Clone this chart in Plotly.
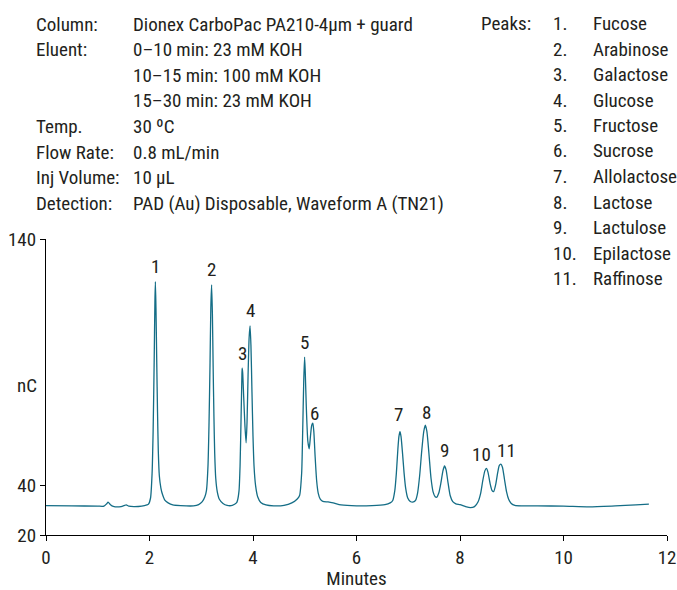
import plotly.graph_objects as go

# ---- chromatogram trace (retention time in min, response in nC) ----
time_min = [
    0.00, 0.50, 1.00, 1.12, 1.17, 1.20, 1.24, 1.30, 1.45, 1.52, 1.55, 1.60, 1.70, 1.85, 1.95,
    1.98, 2.02, 2.05, 2.07, 2.09, 2.105, 2.114, 2.125, 2.14, 2.155, 2.17, 2.19, 2.22, 2.25, 2.30,
    2.36, 2.45, 2.60, 2.85, 2.95, 3.02, 3.07, 3.10, 3.13, 3.15, 3.17, 3.185, 3.20, 3.215, 3.23,
    3.245, 3.26, 3.28, 3.31, 3.35, 3.42, 3.50, 3.60, 3.68, 3.70, 3.73, 3.75, 3.77, 3.785, 3.79,
    3.80, 3.82, 3.845, 3.867, 3.885, 3.905, 3.925, 3.943, 3.96, 3.98, 4.00, 4.02, 4.05, 4.09,
    4.15, 4.25, 4.40, 4.60, 4.75, 4.85, 4.90, 4.94, 4.96, 4.98, 4.997, 5.01, 5.03, 5.06, 5.086,
    5.11, 5.135, 5.156, 5.175, 5.20, 5.23, 5.26, 5.30, 5.35, 5.45, 5.55, 5.70, 6.00, 6.30, 6.55,
    6.65, 6.70, 6.74, 6.77, 6.80, 6.82, 6.84, 6.86, 6.89, 6.92, 6.95, 6.99, 7.04, 7.10, 7.14,
    7.18, 7.22, 7.26, 7.30, 7.33, 7.36, 7.40, 7.44, 7.48, 7.52, 7.55, 7.59, 7.63, 7.67, 7.70,
    7.73, 7.77, 7.81, 7.86, 7.92, 8.00, 8.10, 8.20, 8.28, 8.35, 8.40, 8.44, 8.48, 8.51, 8.54,
    8.58, 8.62, 8.65, 8.69, 8.73, 8.76, 8.79, 8.82, 8.86, 8.90, 8.94, 8.99, 9.06, 9.20, 9.50,
    10.00, 10.50, 11.00, 11.40, 11.65,
]
signal_nc = [
    31.9, 31.8, 31.7, 31.7, 32.6, 33.3, 32.4, 31.6, 31.5, 32.0, 32.2, 31.7, 31.5, 31.7, 32.2,
    32.5, 35.0, 45.0, 62.0, 90.0, 115.0, 122.7, 112.0, 90.0, 70.0, 54.0, 44.0, 39.0, 36.5, 34.0,
    33.0, 32.2, 31.9, 31.8, 32.3, 33.5, 35.5, 38.0, 48.0, 65.0, 90.0, 112.0, 121.4, 110.0, 88.0,
    68.0, 53.0, 43.0, 37.5, 34.5, 32.8, 32.0, 32.0, 33.0, 34.0, 38.0, 48.0, 68.0, 84.0, 87.6,
    86.0, 76.0, 64.0, 57.4, 66.0, 85.0, 100.0, 104.8, 97.0, 78.0, 60.0, 48.0, 40.0, 35.5,
    33.2, 32.2, 31.8, 32.0, 33.0, 34.5, 36.0, 45.0, 62.0, 82.0, 92.1, 86.0, 72.0, 58.0, 54.9,
    60.0, 64.5, 65.3, 62.0, 52.0, 42.0, 37.0, 34.5, 33.6, 33.4, 33.0, 32.2, 31.8, 31.9, 32.3,
    33.0, 34.0, 38.0, 45.0, 55.0, 60.0, 61.9, 60.0, 53.0, 45.0, 39.0, 35.0, 33.6, 33.4, 34.0,
    37.0, 44.0, 54.0, 62.0, 64.5, 62.0, 53.0, 43.0, 37.5, 35.5, 35.3, 37.0, 41.0, 46.0, 48.0,
    46.5, 41.0, 36.0, 33.5, 32.6, 32.3, 31.6, 31.1, 31.5, 33.5, 37.0, 42.0, 46.0, 47.0, 45.5,
    41.0, 38.0, 37.6, 40.5, 45.5, 48.2, 48.7, 47.5, 42.5, 37.5, 34.5, 32.8, 32.0, 31.8, 31.8,
    31.7, 31.4, 31.8, 32.2, 32.5,
]

# ---- peak apexes and numbering ----
peak_numbers = ["1", "2", "3", "4", "5", "6", "7", "8", "9", "10", "11"]
peak_times = [2.114, 3.20, 3.79, 3.943, 4.997, 5.156, 6.84, 7.33, 7.70, 8.51, 8.79]
peak_heights = [122.7, 121.4, 87.6, 104.8, 92.1, 65.3, 61.9, 64.5, 48.0, 47.0, 48.7]
peak_names = ["Fucose", "Arabinose", "Galactose", "Glucose", "Fructose", "Sucrose",
              "Allolactose", "Lactose", "Lactulose", "Epilactose", "Raffinose"]

# ---- run conditions ----
condition_labels = ["Column:", "Eluent:", "", "", "Temp.", "Flow Rate:", "Inj Volume:", "Detection:"]
condition_values = [
    "Dionex CarboPac PA210-4µm + guard",
    "0–10 min: 23 mM KOH",
    "10–15 min: 100 mM KOH",
    "15–30 min: 23 mM KOH",
    "30 ºC",
    "0.8 mL/min",
    "10 µL",
    "PAD (Au) Disposable, Waveform A (TN21)",
]

x_ticks = [0, 2, 4, 6, 8, 10, 12]
y_ticks = [20, 40, 140]

FONT = "Liberation Sans Narrow, Arial Narrow, Roboto Condensed, Liberation Sans, sans-serif"
INK = "#231f20"
TRACE = "#146d86"
TXT = 19

# plot-area geometry in pixels (used to place the text block above the axes)
W, H = 677, 590
ML, MR, MT, MB = 46, 10, 239, 55
PW, PH = W - ML - MR, H - MT - MB


def px_x(px):
    return (px - ML) / PW


def px_y(py):
    return (H - MB - py) / PH


fig = go.Figure()
fig.add_trace(go.Scatter(
    x=time_min, y=signal_nc, mode="lines",
    line=dict(color=TRACE, width=1.3, shape="spline", smoothing=0.6),
    hoverinfo="x+y", showlegend=False,
))

annotations = []

# peak numbers above each apex
label_nudge = {"6": (2, 10), "7": (-1, 17), "8": (1, 13), "10": (-5, 14), "11": (6, 14)}
for num, t, h in zip(peak_numbers, peak_times, peak_heights):
    dx, dy = label_nudge.get(num, (0, 15))
    annotations.append(dict(
        x=t, y=h, xref="x", yref="y", text=num, showarrow=False,
        xanchor="center", yanchor="middle", xshift=dx, yshift=dy,
        font=dict(family=FONT, size=TXT, color=INK),
    ))

# conditions block (upper left)
line_step = 25.6
for i, (lab, val) in enumerate(zip(condition_labels, condition_values)):
    yy = px_y(24 + i * line_step)
    if lab:
        annotations.append(dict(
            x=px_x(34), y=yy, xref="paper", yref="paper", text=lab, showarrow=False,
            xanchor="left", yanchor="middle", font=dict(family=FONT, size=TXT, color=INK),
        ))
    annotations.append(dict(
        x=px_x(131), y=yy, xref="paper", yref="paper", text=val, showarrow=False,
        xanchor="left", yanchor="middle", font=dict(family=FONT, size=TXT, color=INK),
    ))

# peak key (upper right)
annotations.append(dict(
    x=px_x(479), y=px_y(23.5), xref="paper", yref="paper", text="Peaks:", showarrow=False,
    xanchor="left", yanchor="middle", font=dict(family=FONT, size=TXT, color=INK),
))
for i, (num, name) in enumerate(zip(peak_numbers, peak_names)):
    yy = px_y(23.5 + i * 25.5)
    annotations.append(dict(
        x=px_x(551), y=yy, xref="paper", yref="paper", text=num + ".", showarrow=False,
        xanchor="left", yanchor="middle", font=dict(family=FONT, size=TXT, color=INK),
    ))
    annotations.append(dict(
        x=px_x(591), y=yy, xref="paper", yref="paper", text=name, showarrow=False,
        xanchor="left", yanchor="middle", font=dict(family=FONT, size=TXT, color=INK),
    ))

# y-axis unit
annotations.append(dict(
    x=px_x(27), y=px_y(385), xref="paper", yref="paper", text="nC", showarrow=False,
    xanchor="center", yanchor="middle", font=dict(family=FONT, size=TXT, color=INK),
))

fig.update_layout(
    width=W, height=H,
    margin=dict(l=ML, r=MR, t=MT, b=MB, pad=0),
    paper_bgcolor="white", plot_bgcolor="white",
    font=dict(family=FONT, size=TXT, color=INK),
    annotations=annotations,
    xaxis=dict(
        range=[0, 12], tickvals=x_ticks, ticktext=[str(v) for v in x_ticks],
        showgrid=False, zeroline=False, showline=True, linecolor="black", linewidth=1.3,
        ticks="outside", ticklen=5, tickwidth=1.3, tickcolor="black",
        ticklabeloverflow="allow", automargin=False,
        tickfont=dict(family=FONT, size=TXT, color=INK),
        title=dict(text="Minutes", font=dict(family=FONT, size=TXT, color=INK), standoff=4),
    ),
    yaxis=dict(
        range=[20, 140], tickvals=y_ticks, ticktext=[str(v) for v in y_ticks],
        showgrid=False, zeroline=False, showline=True, linecolor="black", linewidth=1.3,
        ticks="outside", ticklen=5, tickwidth=1.3, tickcolor="black",
        automargin=False,
        tickfont=dict(family=FONT, size=TXT, color=INK),
    ),
)

fig.write_html("out.html")
